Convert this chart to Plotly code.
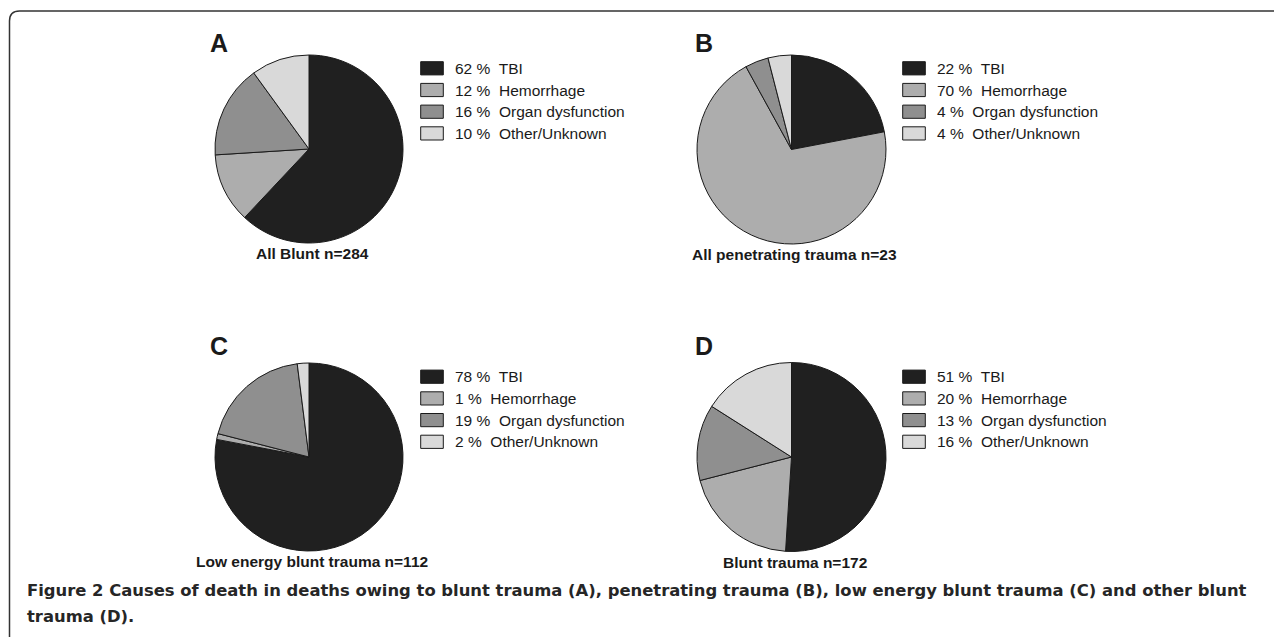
import plotly.graph_objects as go

# ---------------- data ----------------
categories = ["TBI", "Hemorrhage", "Organ dysfunction", "Other/Unknown"]
all_blunt = [62, 12, 16, 10]
all_penetrating = [22, 70, 4, 4]
low_energy_blunt = [78, 1, 19, 2]
other_blunt = [51, 20, 13, 16]

panel_letters = ["A", "B", "C", "D"]
panel_titles = ["All Blunt n=284", "All penetrating trauma n=23",
                "Low energy blunt trauma n=112", "Blunt trauma n=172"]
panel_values = [all_blunt, all_penetrating, low_energy_blunt, other_blunt]

slice_colors = ["#202020", "#adadad", "#8f8f8f", "#d9d9d9"]

caption_bold = "Figure 2"
caption_line1 = " Causes of death in deaths owing to blunt trauma (A), penetrating trauma (B), low energy blunt trauma (C) and other blunt"
caption_line2 = "trauma (D)."

# ---------------- layout helpers ----------------
VIEW_W, VIEW_H = 1282, 637
OFF = 8  # page body margin
W, H = VIEW_W - OFF, VIEW_H - OFF


def fx(px):
    return (px - OFF) / W


def fy(py):
    return 1 - (py - OFF) / H


# pie boxes in window pixels: (left, top, size)
pie_boxes = [(215, 55, 188), (697, 55, 189), (215, 363, 188), (697, 362.5, 189)]
legend_left = [420.7, 902.7, 420.7, 902.7]
legend_top_row = [68.3, 68.3, 376.7, 376.7]
row_gap = 21.7
letter_pos = [(207.5, 43.5), (692.5, 43.5), (207.5, 345.5), (692.5, 345.5)]

fig = go.Figure()
annotations = []
shapes = []

for i, vals in enumerate(panel_values):
    left, top, size = pie_boxes[i]
    fig.add_trace(go.Pie(
        labels=categories,
        values=vals,
        sort=False,
        direction="clockwise",
        rotation=0,
        textinfo="none",
        hoverinfo="label+value",
        showlegend=False,
        marker=dict(colors=slice_colors, line=dict(color="#1a1a1a", width=1)),
        domain=dict(x=[fx(left), fx(left + size)], y=[fy(top + size), fy(top)]),
    ))
    # panel letter
    lx, ly = letter_pos[i]
    annotations.append(dict(
        text="<b>%s</b>" % panel_letters[i], x=fx(lx), y=fy(ly),
        xref="paper", yref="paper", xanchor="left", yanchor="middle",
        showarrow=False, font=dict(family="Liberation Sans, Arial", size=25, color="#1a1a1a")))
    # panel title under the pie
    annotations.append(dict(
        text="<b>%s</b>" % panel_titles[i], x=fx(left + size / 2 + 3), y=fy(top + size + 10.5),
        xref="paper", yref="paper", xanchor="center", yanchor="middle",
        showarrow=False, font=dict(family="Liberation Sans, Arial", size=15.5, color="#1a1a1a")))
    # legend
    for j, cat in enumerate(categories):
        cy = legend_top_row[i] + j * row_gap
        sx = legend_left[i]
        shapes.append(dict(
            type="rect", xref="paper", yref="paper",
            x0=fx(sx), x1=fx(sx + 22.6), y0=fy(cy + 6.6), y1=fy(cy - 6.6),
            fillcolor=slice_colors[j], line=dict(color="#1a1a1a", width=1)))
        annotations.append(dict(
            text="%d %%\u00a0 %s" % (vals[j], cat), x=fx(sx + 32.7), y=fy(cy),
            xref="paper", yref="paper", xanchor="left", yanchor="middle",
            showarrow=False, font=dict(family="Liberation Sans, Arial", size=15.5, color="#1a1a1a")))

# caption
cap_font = dict(family="DejaVu Sans", size=16.4, color="#262626", weight="bold")
annotations.append(dict(
    text="<b>%s</b>%s" % (caption_bold, caption_line1), x=fx(25), y=fy(590.5),
    xref="paper", yref="paper", xanchor="left", yanchor="middle",
    showarrow=False, font=cap_font))
annotations.append(dict(
    text=caption_line2, x=fx(25), y=fy(616.5),
    xref="paper", yref="paper", xanchor="left", yanchor="middle",
    showarrow=False, font=cap_font))

# frame: top and left borders with a rounded corner
r = 10
path = "M %f,%f L %f,%f Q %f,%f %f,%f L %f,%f" % (
    fx(9.5), fy(VIEW_H + 2), fx(9.5), fy(11 + r), fx(9.5), fy(11), fx(9.5 + r), fy(11), fx(VIEW_W + 2), fy(11))
shapes.append(dict(type="path", xref="paper", yref="paper", path=path,
                   line=dict(color="#333333", width=1.5)))

fig.update_layout(
    width=W, height=H,
    margin=dict(l=0, r=0, t=0, b=0),
    paper_bgcolor="white", plot_bgcolor="white",
    annotations=annotations, shapes=shapes,
)

fig.write_html("out.html")
